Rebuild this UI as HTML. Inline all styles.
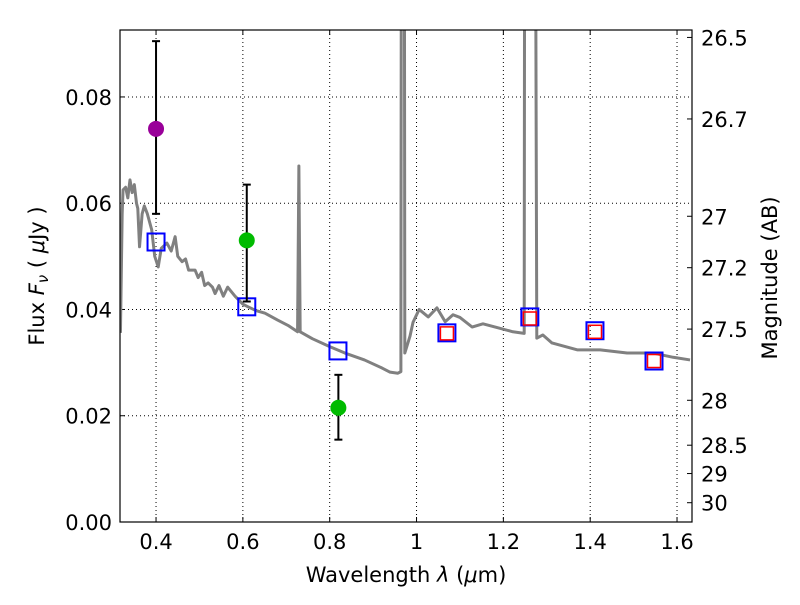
<!DOCTYPE html>
<html><head><meta charset="utf-8"><style>
body{margin:0;background:#fff}
svg text{font-family:"DejaVu Sans","Liberation Sans",sans-serif;fill:#000}
</style></head><body>
<svg id="c" width="800" height="600" xmlns="http://www.w3.org/2000/svg"></svg>
<script>
const specX=[0.318,0.322,0.324,0.33,0.335,0.34,0.345,0.35,0.355,0.358,0.362,0.368,0.373,0.38,0.39,0.397,0.405,0.412,0.425,0.435,0.444,0.45,0.46,0.468,0.475,0.49,0.497,0.505,0.512,0.52,0.53,0.536,0.545,0.555,0.565,0.582,0.6,0.612,0.63,0.651,0.68,0.704,0.726,0.729,0.732,0.76,0.8,0.835,0.88,0.92,0.939,0.957,0.964,0.966,0.971,0.973,0.985,0.992,1.006,1.027,1.047,1.066,1.084,1.1,1.128,1.153,1.19,1.222,1.248,1.25,1.252,1.268,1.271,1.277,1.291,1.312,1.37,1.423,1.485,1.545,1.591,1.63];
const specY=[0.0356,0.058,0.0625,0.063,0.061,0.0644,0.062,0.0635,0.06,0.059,0.0518,0.058,0.0595,0.058,0.055,0.05,0.048,0.0515,0.0525,0.051,0.0537,0.05,0.049,0.0495,0.0474,0.0474,0.046,0.047,0.0445,0.045,0.0442,0.043,0.0445,0.0425,0.0442,0.0425,0.041,0.0405,0.0398,0.0393,0.038,0.037,0.0358,0.067,0.0358,0.0345,0.033,0.0318,0.0305,0.029,0.0282,0.028,0.0283,0.2,0.2,0.0318,0.035,0.0376,0.040,0.0386,0.0403,0.0377,0.039,0.0385,0.0367,0.0373,0.0365,0.0358,0.0355,0.2,0.2,0.2,0.2,0.0346,0.0352,0.0337,0.0324,0.0324,0.0318,0.0318,0.031,0.0305];
const obsX=[0.4,0.609,0.82];
const obsY=[0.074,0.053,0.0215];
const obsLo=[0.058,0.0415,0.0155];
const obsHi=[0.0905,0.0635,0.0277];
const obsColor=['#990099','#00bb00','#00bb00'];
const modX=[0.4,0.609,0.819,1.07,1.261,1.411,1.547];
const modY=[0.0527,0.0405,0.0322,0.0356,0.0386,0.036,0.0303];
const redX=[1.07,1.261,1.411,1.547];
const redY=[0.0355,0.0383,0.0358,0.0303];
const xTicks=[0.4,0.6,0.8,1.0,1.2,1.4,1.6];
const xTickLabels=['0.4','0.6','0.8','1','1.2','1.4','1.6'];
const yTicks=[0,0.02,0.04,0.06,0.08];
const yTickLabels=['0.00','0.02','0.04','0.06','0.08'];
const magTicks=[26.5,26.7,27,27.2,27.5,28,28.5,29,30];
const magLabels=['26.5','26.7','27','27.2','27.5','28','28.5','29','30'];

const L=120,R=692,T=30,B=522;
const xmin=0.317,xmax=1.6345,ymin=0,ymax=0.0926;
const X=v=>L+(v-xmin)/(xmax-xmin)*(R-L);
const Y=v=>B-(v-ymin)/(ymax-ymin)*(B-T);
const svg=document.getElementById('c');
const NS='http://www.w3.org/2000/svg';
function mk(tag,at,parent){const e=document.createElementNS(NS,tag);for(const k in at)e.setAttribute(k,at[k]);(parent||svg).appendChild(e);return e;}
const defs=mk('defs',{});
const cp=mk('clipPath',{id:'clip'},defs);mk('rect',{x:L,y:T,width:R-L,height:B-T},cp);

xTicks.forEach((t,i)=>{
 const g=mk('line',{x1:X(t),x2:X(t),y1:T,y2:B,stroke:'#000','stroke-dasharray':'1,3','stroke-width':1});
 
 
 mk('line',{x1:X(t),x2:X(t),y1:B,y2:B-5,stroke:'#000'});
 mk('line',{x1:X(t),x2:X(t),y1:T,y2:T+5,stroke:'#000'});
 const tx=mk('text',{x:X(t),y:B+27,'text-anchor':'middle','font-size':21});
 tx.textContent=xTickLabels[i];
 
 
});
yTicks.forEach((t,i)=>{
 if(t>0){const g=mk('line',{x1:L,x2:R,y1:Y(t),y2:Y(t),stroke:'#000','stroke-dasharray':'1,3','stroke-width':1});
 
 }
 mk('line',{x1:L,x2:L+5,y1:Y(t),y2:Y(t),stroke:'#000'});
 const tx=mk('text',{x:L-8,y:Y(t)+8,'text-anchor':'end','font-size':21});
 tx.textContent=yTickLabels[i];
 
 
});
magTicks.forEach((m,i)=>{
 const f=Math.pow(10,(23.9-m)/2.5);const y=Y(f);
 mk('line',{x1:R,x2:R-5,y1:y,y2:y,stroke:'#000'});
 const tx=mk('text',{x:R+9,y:y+8,'font-size':21});
 tx.textContent=magLabels[i];
 
 
});

const g=mk('g',{'clip-path':'url(#clip)'});
const sp=mk('polyline',{points:specX.map((x,i)=>X(x)+','+Y(specY[i])).join(' '),fill:'none',stroke:'#808080','stroke-width':3,'stroke-linejoin':'round'},g);



modX.forEach((x,i)=>{
 const r=mk('rect',{x:X(x)-8.5,y:Y(modY[i])-8.5,width:17,height:17,fill:'none',stroke:'#0000ff','stroke-width':2});
 
 
});
redX.forEach((x,i)=>{
 const r=mk('rect',{x:X(x)-6.5,y:Y(redY[i])-6.5,width:13,height:13,fill:'none',stroke:'#ff0000','stroke-width':1.5});
 
 
});
obsX.forEach((x,i)=>{
 const e=mk('line',{x1:X(x),x2:X(x),y1:Y(obsLo[i]),y2:Y(obsHi[i]),stroke:'#000','stroke-width':2});
 
 
 mk('line',{x1:X(x)-4,x2:X(x)+4,y1:Y(obsLo[i]),y2:Y(obsLo[i]),stroke:'#000','stroke-width':2});
 mk('line',{x1:X(x)-4,x2:X(x)+4,y1:Y(obsHi[i]),y2:Y(obsHi[i]),stroke:'#000','stroke-width':2});
 const c=mk('circle',{cx:X(x),cy:Y(obsY[i]),r:8,fill:obsColor[i]});
 
 
});

const fr=mk('rect',{x:L,y:T,width:R-L,height:B-T,fill:'none',stroke:'#000','stroke-width':1.2});



const xl=mk('text',{x:406,y:582,'text-anchor':'middle','font-size':21});
xl.innerHTML='Wavelength  <tspan font-style="italic">λ</tspan> (<tspan font-style="italic">μ</tspan>m)';


const yl=mk('text',{x:0,y:0,'text-anchor':'middle','font-size':21,transform:'translate(44,276) rotate(-90)'});
yl.innerHTML='Flux  <tspan font-style="italic">F</tspan><tspan font-style="italic" font-size="15" dy="4">ν</tspan><tspan dy="-4">  ( </tspan><tspan font-style="italic">μ</tspan>Jy )';


const rl=mk('text',{x:0,y:0,'text-anchor':'middle','font-size':21,transform:'translate(777,278) rotate(-90)'});
rl.textContent='Magnitude (AB)';


</script>
</body></html>
